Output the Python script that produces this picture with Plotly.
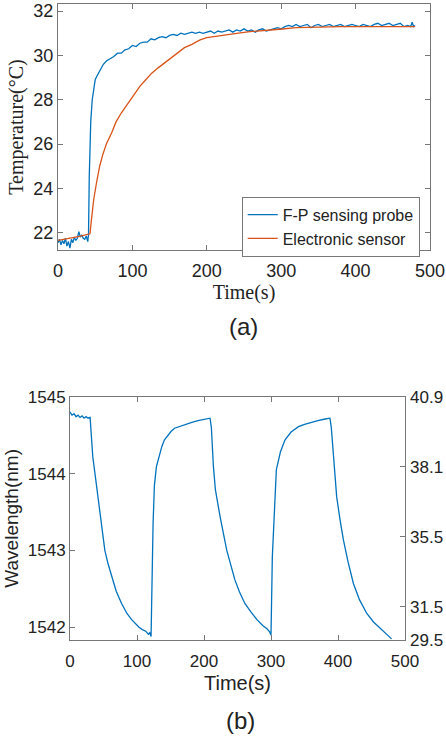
import plotly.graph_objects as go

# ---------------- (a) data ----------------
fp_t = [0, 2, 4, 6, 8, 10, 12, 14, 16, 18, 20, 22, 24, 26, 28, 30, 32, 34, 36, 38, 40,
        41, 42, 43, 44, 46, 48, 50, 52, 55, 58, 61, 65, 70, 75, 80, 85, 90, 95, 100,
        105, 110, 115, 120, 125, 130, 135, 140, 145, 150, 155, 160, 165, 170, 175, 180,
        185, 190, 195, 200, 205, 210, 215, 220, 225, 230, 235, 240, 245, 250, 255, 260,
        265, 270, 275, 280, 285, 290, 295, 300, 305, 310, 315, 320, 325, 330, 335, 340,
        345, 350, 355, 360, 365, 370, 375, 380, 385, 390, 395, 400, 405, 410, 415, 420,
        425, 430, 435, 440, 445, 450, 455, 460, 465, 470, 474, 476, 478, 480]
fp_v = [21.55, 21.7, 21.45, 21.65, 21.5, 21.75, 21.4, 21.6, 21.3, 21.7, 21.55, 21.8, 21.65,
        21.75, 22.05, 21.8, 21.9, 21.75, 21.7, 21.85, 21.6,
        21.9, 24.5, 26.0, 27.0, 28.0, 28.6, 28.9, 29.05, 29.25, 29.45, 29.6, 29.75, 29.85,
        29.95, 30.1, 30.1, 30.25, 30.3, 30.45, 30.4, 30.55, 30.6, 30.6, 30.75, 30.7, 30.8,
        30.85, 30.8, 30.9, 30.95, 30.9, 31.0, 30.95, 31.0, 31.05, 31.0, 31.05, 31.0, 31.05,
        31.1, 31.0, 31.1, 31.05, 31.1, 31.15, 31.05, 31.15, 31.1, 31.2, 31.1, 31.15, 31.05,
        31.15, 31.2, 31.1, 31.15, 31.2, 31.25, 31.2, 31.3, 31.35, 31.3, 31.4, 31.3, 31.35,
        31.4, 31.25, 31.35, 31.4, 31.3, 31.35, 31.4, 31.3, 31.35, 31.4, 31.3, 31.35, 31.4,
        31.35, 31.3, 31.4, 31.35, 31.3, 31.4, 31.45, 31.35, 31.4, 31.45, 31.35, 31.4, 31.45,
        31.3, 31.35, 31.3, 31.5, 31.3, 31.35]

es_t = [0, 10, 20, 30, 38, 43, 45, 48, 52, 56, 60, 65, 72, 78, 85, 95, 103, 110, 118, 126,
        135, 148, 160, 170, 180, 191, 200, 215, 231, 245, 258, 280, 298, 320, 343, 380,
        420, 480]
es_v = [21.65, 21.7, 21.78, 21.85, 21.9, 21.95, 22.6, 23.5, 24.3, 25.0, 25.5, 26.0, 26.5,
        27.0, 27.4, 27.9, 28.3, 28.6, 28.9, 29.2, 29.45, 29.8, 30.1, 30.35, 30.5, 30.7,
        30.8, 30.88, 30.95, 31.02, 31.07, 31.12, 31.18, 31.25, 31.27, 31.3, 31.3, 31.3]

# ---------------- (b) data ----------------
wl_t = [0, 3, 6, 9, 12, 15, 18, 21, 24, 27, 30, 32, 34, 38, 42, 46, 52, 57, 62, 69, 77, 85,
        92, 97, 103, 108, 113, 117, 119, 121, 122, 124, 126, 129, 133, 137, 141, 146, 151,
        156, 162, 169, 176, 183, 191, 198, 204, 209, 211, 214, 217, 224, 234, 240, 246, 253,
        261, 270, 279, 288, 294, 298, 300, 302, 305, 308, 314, 321, 330, 341, 350, 361, 370,
        381, 388, 390, 393, 398, 403, 408, 415, 423, 432, 443, 453, 463, 470, 476, 480]
wl_v = [1544.8, 1544.76, 1544.78, 1544.74, 1544.76, 1544.73, 1544.75, 1544.72, 1544.74,
        1544.72, 1544.73, 1544.5, 1544.22, 1543.95, 1543.66, 1543.38, 1543.0, 1542.82,
        1542.66, 1542.47, 1542.31, 1542.18, 1542.1, 1542.05, 1542.0, 1541.97, 1541.95,
        1541.91, 1541.93, 1541.88, 1542.4, 1543.35, 1543.85, 1544.09, 1544.22, 1544.35,
        1544.44, 1544.5, 1544.55, 1544.59, 1544.61, 1544.63, 1544.65, 1544.67, 1544.69,
        1544.7, 1544.71, 1544.72, 1544.6, 1544.1, 1543.79, 1543.44, 1543.0, 1542.8, 1542.62,
        1542.46, 1542.31, 1542.2, 1542.1, 1542.02, 1541.98, 1541.94, 1541.9, 1542.92,
        1543.6, 1544.05, 1544.28, 1544.44, 1544.54, 1544.61, 1544.64, 1544.67, 1544.69,
        1544.71, 1544.72, 1544.6, 1544.22, 1543.7, 1543.4, 1543.14, 1542.85, 1542.57,
        1542.36, 1542.18, 1542.07, 1541.99, 1541.93, 1541.88, 1541.85]

right_tick_labels = ["40.9", "38.1", "35.5", "31.5", "29.5"]
right_tick_at_wl = [1545.0, 1544.09, 1543.18, 1542.27, 1541.835]

BLUE = "#0072BD"
ORANGE = "#D95319"
AX = "#777777"
TXT = "#222222"

fig = go.Figure()
fig.add_trace(go.Scatter(x=fp_t, y=fp_v, mode="lines", name="F-P sensing probe",
                         line=dict(color=BLUE, width=1.3), xaxis="x", yaxis="y"))
fig.add_trace(go.Scatter(x=es_t, y=es_v, mode="lines", name="Electronic sensor",
                         line=dict(color=ORANGE, width=1.3), xaxis="x", yaxis="y"))
fig.add_trace(go.Scatter(x=wl_t, y=wl_v, mode="lines", showlegend=False,
                         line=dict(color=BLUE, width=1.3), xaxis="x2", yaxis="y2"))
fig.add_trace(go.Scatter(x=[None], y=[None], xaxis="x2", yaxis="y3", showlegend=False,
                         hoverinfo="skip"))

common = dict(showline=True, linecolor=AX, linewidth=1, ticks="inside", ticklen=5,
              tickcolor=AX, showgrid=False, zeroline=False, automargin=False)

sans = "Liberation Sans, Arial, sans-serif"
serif = "Liberation Serif, Times New Roman, serif"

fig.update_layout(
    width=446, height=739, margin=dict(l=0, r=0, t=0, b=0, autoexpand=False),
    paper_bgcolor="white", plot_bgcolor="white",
    font=dict(family=sans, color=TXT),
    xaxis=dict(domain=[58/446, 430/446], range=[0, 500], tickvals=[0, 100, 200, 300, 400, 500],
               mirror="ticks", anchor="y", tickfont=dict(size=18, family=sans),
               ticklabelstandoff=4,
               title=dict(text="Time(s)", font=dict(size=20, family=serif), standoff=2), **common),
    yaxis=dict(domain=[1-250/739, 1-4/739], range=[21.22, 32.32], tickvals=[22, 24, 26, 28, 30, 32],
               mirror="ticks", anchor="x", tickfont=dict(size=18, family=sans),
               title=dict(text="Temperature(°C)", font=dict(size=20, family=serif), standoff=4), **common),
    xaxis2=dict(domain=[70/446, 405/446], range=[0, 500], tickvals=[0, 100, 200, 300, 400, 500],
                mirror="ticks", anchor="y2", tickfont=dict(size=17, family=sans),
                ticklabelstandoff=6,
                title=dict(text="Time(s)", font=dict(size=20, family=sans), standoff=5), **common),
    yaxis2=dict(domain=[1-640/739, 1-396.7/739], range=[1541.835, 1545.0],
                tickvals=[1542, 1543, 1544, 1545], mirror=True, anchor="x2",
                tickfont=dict(size=17, family=sans),
                title=dict(text="Wavelength(nm)", font=dict(size=19, family=sans), standoff=4), **common),
    yaxis3=dict(overlaying="y2", side="right", anchor="x2", range=[1541.835, 1545.0],
                tickvals=right_tick_at_wl, ticktext=right_tick_labels,
                tickfont=dict(size=17, family=sans), showline=False, ticks="inside",
                ticklen=5, tickcolor=AX, showgrid=False, zeroline=False, automargin=False,
                ticklabelstandoff=4),
    legend=dict(x=241.7/446, y=1-196.7/739, xanchor="left", yanchor="top",
                bgcolor="white", bordercolor=AX, borderwidth=1,
                font=dict(size=16, family=sans, color=TXT), tracegroupgap=0),
    annotations=[
        dict(text="(a)", x=243/446, y=1-326/739, xref="paper", yref="paper",
             xanchor="center", yanchor="middle",
             showarrow=False, font=dict(size=24, family=sans, color=TXT)),
        dict(text="(b)", x=240/446, y=1-720/739, xref="paper", yref="paper",
             xanchor="center", yanchor="middle",
             showarrow=False, font=dict(size=24, family=sans, color=TXT)),
    ],
)

fig.write_html("out.html", config={"displayModeBar": False},
               post_script="document.body.style.margin='0';"
                           "document.documentElement.style.overflow='hidden';")
